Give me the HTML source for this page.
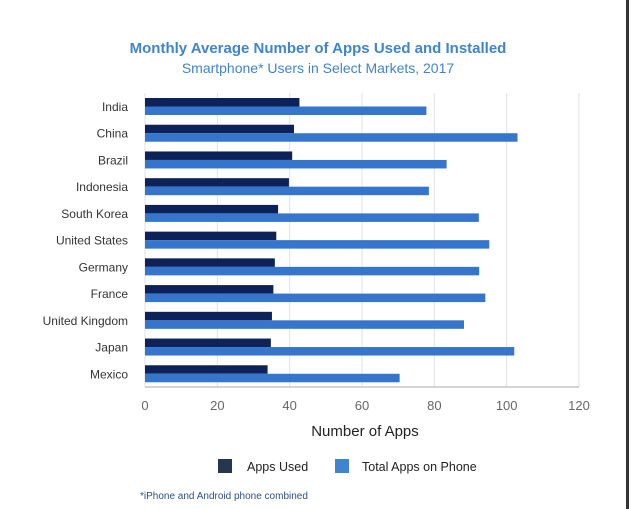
<!DOCTYPE html>
<html><head><meta charset="utf-8"><style>
body{margin:0;background:#fff;width:633px;height:509px;overflow:hidden;font-family:"Liberation Sans",sans-serif;}
</style></head><body>
<svg id="chart" width="633" height="509" style="position:absolute;left:0;top:0">
<rect x="626" y="0" width="3" height="509" fill="#333"/>
<text x="318" y="53" text-anchor="middle" font-size="15" font-weight="bold" fill="#3f84d0">Monthly Average Number of Apps Used and Installed</text>
<text x="318" y="73" text-anchor="middle" font-size="14" fill="#3f84d0">Smartphone* Users in Select Markets, 2017</text>
<g id="grid"></g><g id="bars"></g><g id="labels"></g>
<text x="365" y="436" text-anchor="middle" font-size="15" fill="#222">Number of Apps</text>
<rect x="218" y="459" width="14" height="14" fill="#25364f"/>
<text x="247" y="471" font-size="12.5" fill="#222">Apps Used</text>
<rect x="335" y="459" width="14" height="14" fill="#3f84d0"/>
<text x="362" y="471" font-size="12.5" fill="#222">Total Apps on Phone</text>
<text x="140" y="499" font-size="10" fill="#2c4f8a">*iPhone and Android phone combined</text>
</svg>
<script>
const categories=["India","China","Brazil","Indonesia","South Korea","United States","Germany","France","United Kingdom","Japan","Mexico"];
const appsUsed=[42.7,41.2,40.7,39.8,36.8,36.3,35.9,35.5,35.1,34.8,33.9];
const totalApps=[77.8,103,83.4,78.5,92.3,95.2,92.4,94.1,88.2,102.1,70.4];
const ticks=[0,20,40,60,80,100,120];
const NS="http://www.w3.org/2000/svg";
const x0=145,x1=579,yTop=93,yBot=387,maxV=120;
const xs=v=>x0+(x1-x0)*v/maxV;
const step=(yBot-yTop)/categories.length;
function mk(t,a,p){const e=document.createElementNS(NS,t);for(const k in a)e.setAttribute(k,a[k]);p.appendChild(e);return e;}
const grid=document.getElementById('grid'),bars=document.getElementById('bars'),labels=document.getElementById('labels');
ticks.forEach(t=>{
 const l=mk('line',{x1:xs(t),x2:xs(t),y1:yTop,y2:yBot,stroke:'#e2e2e2','stroke-width':1},grid);
 
 
 const tx=mk('text',{x:xs(t),y:410,'text-anchor':'middle','font-size':13,fill:'#666'},labels);
 tx.textContent=t;
 
 
});
const ax=mk('line',{x1:x0,x2:x1,y1:yBot,y2:yBot,stroke:'#aaa','stroke-width':1},grid);


categories.forEach((c,i)=>{
 const gy=yTop+5+i*step;
 const b1=mk('rect',{x:x0,y:gy,width:xs(appsUsed[i])-x0,height:8.5,fill:'#0c2258'},bars);
 
 
 const b2=mk('rect',{x:x0,y:gy+8.5,width:xs(totalApps[i])-x0,height:8.5,fill:'#3575cc'},bars);
 
 
 const t=mk('text',{x:128,y:gy+13,'text-anchor':'end','font-size':12,fill:'#333'},labels);
 t.textContent=c;
 
 
});
</script>
</body></html>
